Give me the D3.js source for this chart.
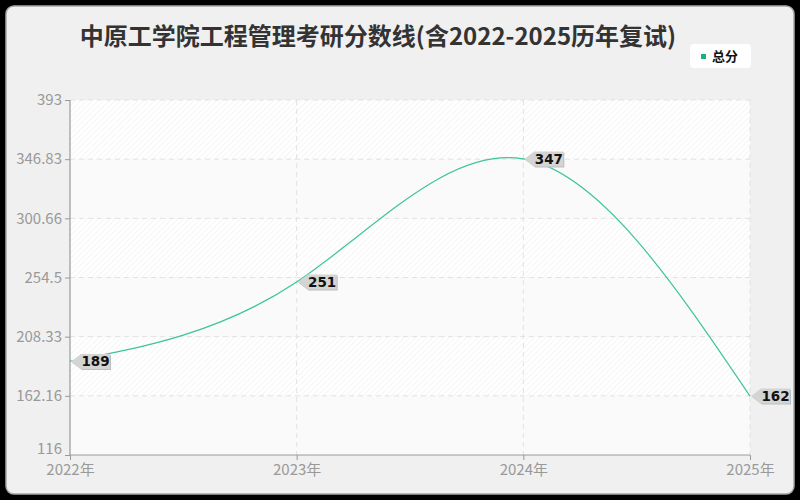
<!DOCTYPE html>
<html><head><meta charset="utf-8">
<script src="https://cdn.jsdelivr.net/npm/d3@7/dist/d3.min.js"></script>
<style>body{margin:0;background:#000;}svg{display:block;font-family:"Noto Sans CJK SC","Noto Sans",sans-serif;}</style>
</head><body><svg id="c" width="800" height="500"></svg>
<script>
const title = "中原工学院工程管理考研分数线(含2022-2025历年复试)";
const seriesName = "总分";
const years = ["2022年","2023年","2024年","2025年"];
const scores = [189, 251, 347, 162];
const yTicks = [116, 162.16, 208.33, 254.5, 300.66, 346.83, 393];
const yTickLabels = ["116","162.16","208.33","254.5","300.66","346.83","393"];

const svg = d3.select("#c");
const W = 800, H = 500;
const m = {l:70, r:750, t:100, b:455};

const defs = svg.append("defs");
const pat = defs.append("pattern").attr("id","hatch").attr("patternUnits","userSpaceOnUse")
  .attr("width",4).attr("height",4).attr("patternTransform","rotate(45)");
pat.append("rect").attr("width",4).attr("height",4).attr("fill","#ffffff");
pat.append("line").attr("x1",0).attr("y1",0).attr("x2",0).attr("y2",4).attr("stroke","#efefef").attr("stroke-width",1.2);

svg.append("rect").attr("width",W).attr("height",H).attr("fill","#000");
svg.append("rect").attr("x",6).attr("y",6).attr("width",W-12).attr("height",H-12).attr("rx",8)
  .attr("fill","#f0f0f0").attr("stroke","#a8a8a8").attr("stroke-width",1.5);

const x = d3.scalePoint().domain(years).range([m.l, m.r]);
const y = d3.scaleLinear().domain([yTicks[0], yTicks[yTicks.length-1]]).range([m.b, m.t]);

// bands
for (let i=0;i<yTicks.length-1;i++){
  const top = y(yTicks[i+1]), bot = y(yTicks[i]);
  const hatched = (yTicks.length-2-i)%2===0;
  svg.append("rect").attr("x",m.l).attr("y",top).attr("width",m.r-m.l).attr("height",bot-top)
    .attr("fill", hatched ? "url(#hatch)" : "#fafafa");
}
// grid
svg.append("g").selectAll("line").data(yTicks.slice(1)).join("line")
  .attr("x1",m.l).attr("x2",m.r).attr("y1",d=>y(d)).attr("y2",d=>y(d))
  .attr("stroke","#e2e2e2").attr("stroke-dasharray","5,4");
svg.append("g").selectAll("line").data(years.slice(1)).join("line")
  .attr("x1",d=>x(d)).attr("x2",d=>x(d)).attr("y1",m.t).attr("y2",m.b)
  .attr("stroke","#e2e2e2").attr("stroke-dasharray","5,4");

// axes
const yAxis = d3.axisLeft(y).tickValues(yTicks).tickSize(5).tickPadding(3)
  .tickFormat((d,i)=>yTickLabels[i]);
const gy = svg.append("g").attr("transform",`translate(${m.l},0)`).call(yAxis);
const xAxis = d3.axisBottom(x).tickSize(5).tickPadding(4);
const gx = svg.append("g").attr("transform",`translate(0,${m.b})`).call(xAxis);
[gy,gx].forEach(g=>{
  g.select(".domain").attr("stroke","#999").attr("stroke-width",1.2);
  g.selectAll(".tick line").attr("stroke","#999");
  g.selectAll(".tick text").attr("fill","#999").attr("font-size",15)
    .attr("font-family","'Noto Sans CJK SC','Noto Sans',sans-serif");
});
gy.selectAll(".tick text").filter((d,i)=>i===0).attr("dy","-0.1em");
gx.select(".domain").attr("d",`M${m.l},0H${m.r}`);
gy.select(".domain").attr("d",`M0,${m.t}V${m.b}`);

// line
const pts = years.map((yr,i)=>[x(yr), y(scores[i])]);
const line = d3.line().curve(d3.curveNatural);
svg.append("path").attr("d", line(pts)).attr("fill","none").attr("stroke","#3cc49c").attr("stroke-width",1.2);

// labels
const lab = svg.append("g");
scores.forEach((v,i)=>{
  const px = x(years[i]), py = y(v);
  const g = lab.append("g").attr("transform",`translate(${px+1},${py})`);
  const w = 29, h = 15;
  const path = `M0,0 L10,-${h/2} H${10+w} V${h/2} H10 Z`;
  g.append("path").attr("d",path).attr("fill","#bdbdbd").attr("transform","translate(1,1)");
  g.append("path").attr("d",path).attr("fill","#d4d4d4");
  g.append("text").attr("x",10+w/2).attr("y",5).attr("text-anchor","middle")
    .attr("font-size",13.5).attr("font-weight","bold").attr("fill","#111")
    .attr("font-family","'DejaVu Sans',sans-serif").text(v);
});

// title
svg.append("text").attr("x",378).attr("y",45).attr("text-anchor","middle")
  .attr("font-size",24).attr("font-weight","bold").attr("fill","#333").text(title);

// legend
const lg = svg.append("g").attr("transform","translate(690,44)");
lg.append("rect").attr("width",61).attr("height",24).attr("rx",4).attr("fill","#fff");
lg.append("rect").attr("x",11).attr("y",10).attr("width",5).attr("height",5).attr("fill","#16b287");
lg.append("text").attr("x",22).attr("y",17).attr("font-size",13).attr("font-weight","bold").attr("fill","#111").text(seriesName);
</script></body></html>
